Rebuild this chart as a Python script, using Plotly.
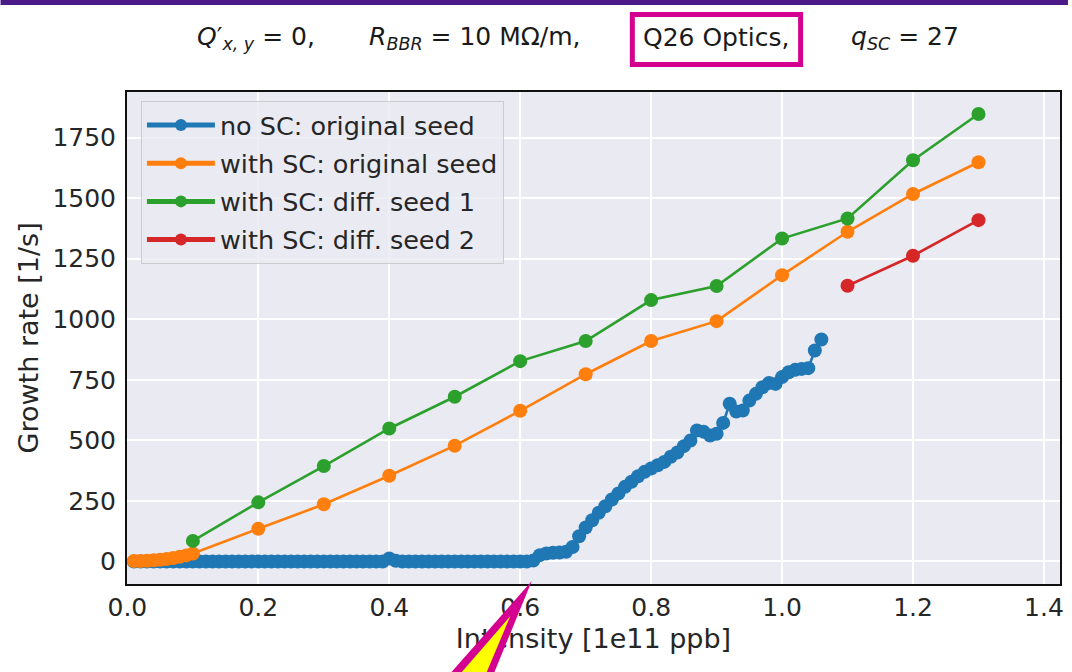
import plotly.graph_objects as go

# ---- data -------------------------------------------------------------
# no space charge, original seed: scan in steps of 0.01e11 ppb
no_sc_x = [round(0.01 * k, 2) for k in range(1, 107)]
no_sc_y = (
    [0] * 39            # 0.01 .. 0.39
    + [12, 3]           # 0.40, 0.41
    + [0] * 20          # 0.42 .. 0.61
    + [4, 26, 33, 36, 37, 40, 60, 104, 140, 170,       # 0.62 .. 0.71
       201, 228, 256, 281, 308, 329, 352, 370, 384, 397,  # 0.72 .. 0.81
       411, 432, 450, 476, 499, 541, 536, 520, 527, 572,  # 0.82 .. 0.91
       651, 619, 623, 664, 692, 719, 737, 733, 761, 781,  # 0.92 .. 1.01
       791, 795, 798, 871, 916]                           # 1.02 .. 1.06
)

sc_orig_x = [0.01, 0.02, 0.03, 0.04, 0.05, 0.06, 0.07, 0.08, 0.09, 0.10,
             0.2, 0.3, 0.4, 0.5, 0.6, 0.7, 0.8, 0.9, 1.0, 1.1, 1.2, 1.3]
sc_orig_y = [2, 2, 3, 5, 7, 10, 14, 19, 25, 33,
             135, 236, 354, 478, 622, 773, 910, 992, 1182, 1361, 1517, 1648]

sc_seed1_x = [0.1, 0.2, 0.3, 0.4, 0.5, 0.6, 0.7, 0.8, 0.9, 1.0, 1.1, 1.2, 1.3]
sc_seed1_y = [85, 244, 394, 549, 680, 827, 910, 1079, 1137, 1333, 1416, 1656, 1847]

sc_seed2_x = [1.1, 1.2, 1.3]
sc_seed2_y = [1138, 1262, 1409]

series_names = ["no SC: original seed", "with SC: original seed",
                "with SC: diff. seed 1", "with SC: diff. seed 2"]
series_colors = ["#1f77b4", "#ff7f0e", "#2ca02c", "#d62728"]

x_ticks = [0.0, 0.2, 0.4, 0.6, 0.8, 1.0, 1.2, 1.4]
y_ticks = [0, 250, 500, 750, 1000, 1250, 1500, 1750]

x_title = "Intensity [1e11 ppb]"
y_title = "Growth rate [1/s]"

# ---- layout geometry (pixels) ------------------------------------------
W, H = 1072, 672
L, R, T, B = 127, 1064, 92, 584          # plot-area edges
X_RANGE = [-0.0006, 1.4245]
Y_RANGE = [-93, 1938]
X_MID = (X_RANGE[0] + X_RANGE[1]) / 2


def px(xp):
    return (xp - L) / (R - L)


def py(yp):
    return (B - yp) / (B - T)


FONT = "DejaVu Sans"
TXT = "#262626"
MAGENTA = "#D4008F"

fig = go.Figure()
for i, (xs, ys, name, color) in enumerate(zip(
    [no_sc_x, sc_orig_x, sc_seed1_x, sc_seed2_x],
    [no_sc_y, sc_orig_y, sc_seed1_y, sc_seed2_y],
    series_names, series_colors,
)):
    fig.add_trace(go.Scatter(
        x=xs, y=ys, name=name, mode="lines+markers", legendgroup=f"g{i}",
        line=dict(color=color, width=2.6),
        marker=dict(color=color, size=14),
    ))

# empty trace that keeps the secondary x axis (carrying the axis title) alive
fig.add_trace(go.Scatter(x=[X_MID], y=[None], xaxis="x2", mode="markers",
                         showlegend=False, hoverinfo="skip"))

axis_common = dict(
    showgrid=True, gridcolor="white", gridwidth=1.6,
    zeroline=False, showline=True, mirror=True,
    linecolor="#111111", linewidth=2, ticks="",
    tickfont=dict(family=FONT, size=25, color=TXT),
)
fig.update_layout(
    xaxis=dict(range=X_RANGE, tickvals=x_ticks,
               ticktext=[f"{v:.1f}" for v in x_ticks],
               ticklabelstandoff=0, **axis_common),
    yaxis=dict(range=Y_RANGE, tickvals=y_ticks,
               ticktext=[str(v) for v in y_ticks],
               ticklabelstandoff=4, **axis_common),
    # x-axis title drawn as the single label of an overlaid axis
    xaxis2=dict(overlaying="x", anchor="y", side="bottom", range=X_RANGE,
                tickvals=[X_MID], ticktext=[x_title], ticks="",
                showgrid=False, showline=False, zeroline=False,
                ticklabelstandoff=36,
                tickfont=dict(family=FONT, size=27, color=TXT)),
)

annotations = [
    dict(text=y_title, x=px(28), y=0.5, xref="paper", yref="paper",
         showarrow=False, xanchor="center", yanchor="middle", textangle=-90,
         font=dict(family=FONT, size=27, color=TXT)),
]
title_parts = [
    ("<i>Q</i>′<sub><i>x, y</i></sub> = 0,", 257),
    ("<i>R</i><sub><i>BBR</i></sub> = 10 MΩ/m,", 476),
    ("Q26 Optics,", 719),
    ("<i>q</i><sub><i>SC</i></sub> = 27", 908),
]
for txt, cx in title_parts:
    annotations.append(dict(
        text=txt, x=px(cx), y=py(38), xref="paper", yref="paper",
        showarrow=False, xanchor="center", yanchor="middle",
        font=dict(family=FONT, size=25, color="#1a1a1a")))


def path(points):
    return "M " + " L ".join(f"{px(a)},{py(b)}" for a, b in points) + " Z"


shapes = [
    # purple band along the top edge
    dict(type="rect", xref="paper", yref="paper", x0=px(0), x1=px(W),
         y0=py(0), y1=py(5), fillcolor="#4B1A88", line=dict(width=0)),
    # highlight box around the optics label
    dict(type="rect", xref="paper", yref="paper", x0=px(634.5), x1=px(803.5),
         y0=py(14.5), y1=py(64.5), line=dict(color=MAGENTA, width=5),
         fillcolor="rgba(0,0,0,0)"),
    # pointer wedge (outline + fill)
    dict(type="path", xref="paper", yref="paper", layer="above",
         path=path([(533.5, 581), (437, 690), (488.6, 690)]),
         fillcolor=MAGENTA, line=dict(width=0)),
    dict(type="path", xref="paper", yref="paper", layer="above",
         path=path([(512, 616), (447.6, 690), (480.7, 690)]),
         fillcolor="#FFFF00", line=dict(width=0)),
]

fig.update_layout(
    width=W, height=H, autosize=False,
    margin=dict(l=L, r=W - R, t=T, b=H - B, pad=0),
    paper_bgcolor="white", plot_bgcolor="#EAEAF2",
    font=dict(family=FONT, color=TXT),
    showlegend=True,
    legend=dict(
        x=px(141), y=py(101), xanchor="left", yanchor="top",
        bgcolor="rgba(234,234,242,0.8)", bordercolor="#CCCCCC", borderwidth=1,
        font=dict(family=FONT, size=25.5, color=TXT),
        itemwidth=68, itemsizing="constant",
        traceorder="grouped", tracegroupgap=2,
    ),
    annotations=annotations, shapes=shapes,
)

fig.write_html("out.html")
